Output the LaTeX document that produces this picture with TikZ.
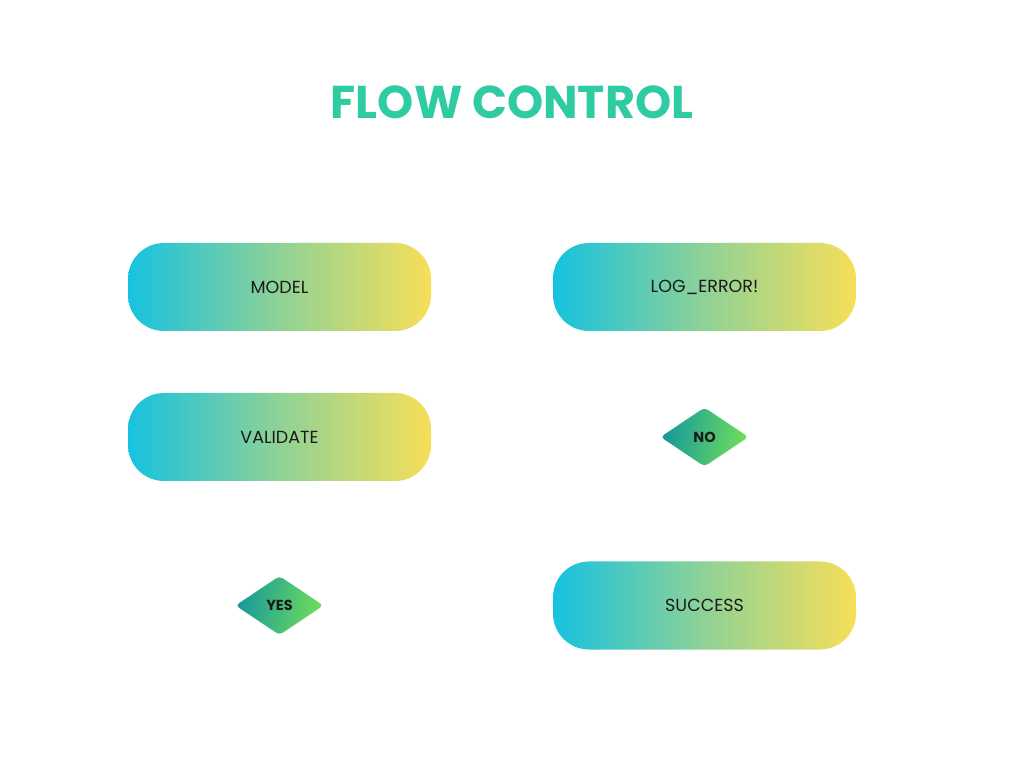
\documentclass[tikz,border=0pt]{standalone}
\usepackage{fontspec}
\setmainfont{Poppins}
\usepackage{tikz}
\usetikzlibrary{shapes.geometric,positioning}
\definecolor{titlegreen}{HTML}{2FCBA2}
\definecolor{boxcyan}{HTML}{17C2E0}
\definecolor{boxmid}{HTML}{8FD296}
\definecolor{boxyellow}{HTML}{F7DF58}
\definecolor{dteal}{HTML}{16989C}
\definecolor{dgreen}{HTML}{70DE5A}
\definecolor{ink}{HTML}{1A1A1A}
\tikzset{
  stepbox/.style={rectangle, rounded corners=36pt, minimum width=303pt,
    minimum height=88pt, left color=boxcyan, right color=boxyellow,
    middle color=boxmid, text=ink, font=\fontsize{17.5}{20}\selectfont},
  choice/.style={diamond, rounded corners=4pt, inner sep=0pt,
    minimum width=88pt, minimum height=59pt, shading=axis,
    left color=dteal, right color=dgreen, shading angle=80,
    text=ink, font=\bfseries\fontsize{14.5}{16}\selectfont}
}
\begin{document}
\begin{tikzpicture}[x=1pt, y=1pt, node distance=425pt]
		\useasboundingbox[fill=white] (0,0) rectangle (1024,768);
		\node(title) at (512,666){\textcolor{titlegreen}{\bfseries\fontsize{46}{50}\selectfont FLOW CONTROL}};
		\node(model)[stepbox] at (279.5,481){MODEL};
		\node(log)[stepbox, right of=model]{LOG\_ERROR!};
		\node(validate)[stepbox, below of=model, node distance=150pt]{VALIDATE};
		\node(no)[choice, right of=validate]{NO};
		\node(yes)[choice, below of=validate, node distance=168.5pt]{YES};
		\node(success)[stepbox, right of=yes]{SUCCESS};
	\end{tikzpicture}
\end{document}
